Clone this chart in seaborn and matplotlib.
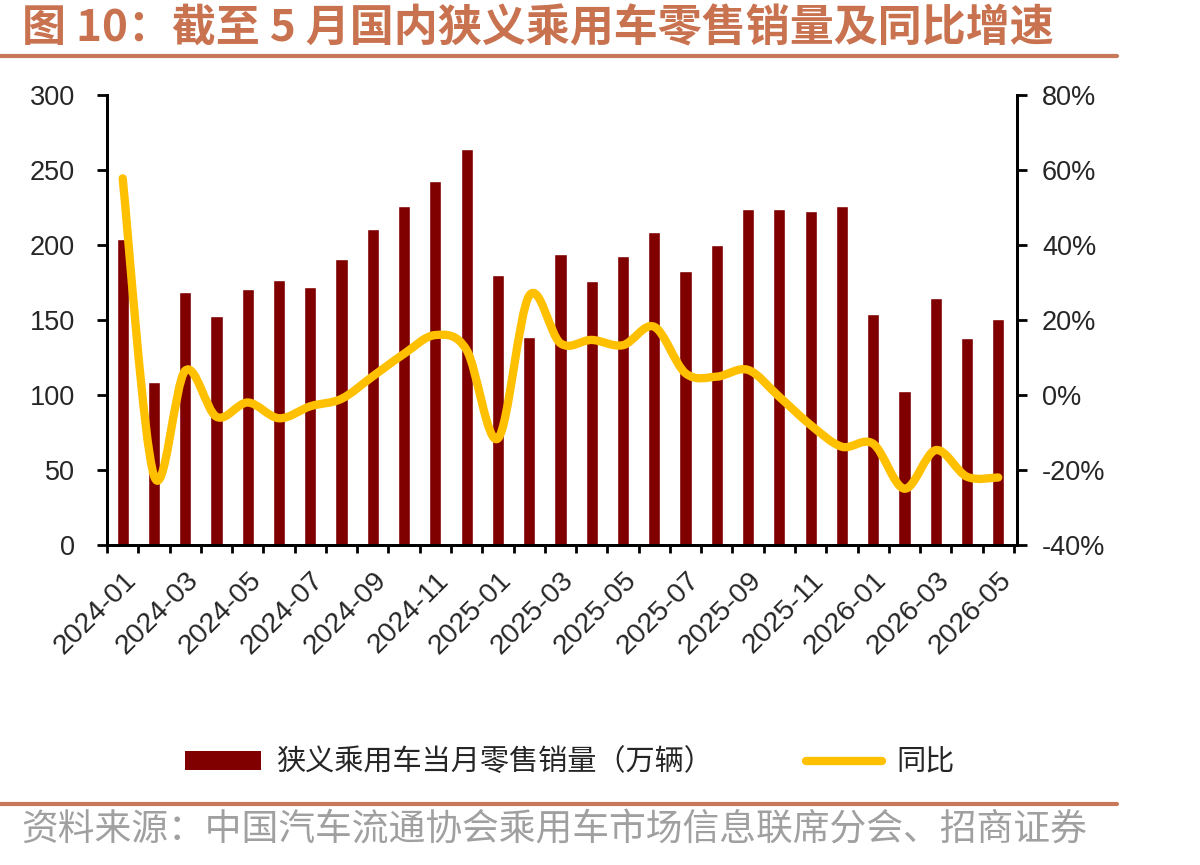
import numpy as np
import pandas as pd
import matplotlib
matplotlib.use("Agg")
import matplotlib.pyplot as plt
import seaborn as sns
from matplotlib.path import Path
from matplotlib.patches import PathPatch, Patch
from matplotlib.lines import Line2D

months = ["2024-01", "2024-02", "2024-03", "2024-04", "2024-05", "2024-06",
          "2024-07", "2024-08", "2024-09", "2024-10", "2024-11", "2024-12",
          "2025-01", "2025-02", "2025-03", "2025-04", "2025-05", "2025-06",
          "2025-07", "2025-08", "2025-09", "2025-10", "2025-11", "2025-12",
          "2026-01", "2026-02", "2026-03", "2026-04", "2026-05"]
sales = [204, 109, 169, 153, 171, 177, 172, 191, 211, 226, 243, 264,
         180, 139, 194, 176, 193, 209, 183, 200, 224, 224, 223, 226,
         154, 103, 165, 138, 151]
yoy = [57.8, -21.5, 6.5, -5.8, -2.0, -6.2, -3.0, -1.0, 5.0, 11.0, 16.0, 12.0,
       -11.6, 26.5, 13.8, 14.7, 13.3, 18.2, 5.8, 4.9, 6.7, -0.5, -8.0, -13.8,
       -13.0, -25.0, -14.7, -21.8, -22.0]
left_ticks = [0, 50, 100, 150, 200, 250, 300]
right_ticks = [-40, -20, 0, 20, 40, 60, 80]

bar_name = "狭义乘用车当月零售销量（万辆）"
line_name = "同比"
title = "图 10：截至 5 月国内狭义乘用车零售销量及同比增速"
source = "资料来源：中国汽车流通协会乘用车市场信息联席分会、招商证券"

sns.set_theme(style="white")
plt.rcParams["font.family"] = ["Liberation Sans", "Noto Sans CJK SC"]

df = pd.DataFrame({"month": months, "sales": sales, "yoy": yoy})

fig = plt.figure(figsize=(12, 8.65), dpi=100)
ax = fig.add_axes([0.0892, 0.370, 0.7583, 0.520])

sns.barplot(data=df, x="month", y="sales", color="#800000", saturation=1,
            width=0.39, ax=ax)
ax.set_xlim(-0.5, len(months) - 0.5)
ax.set_ylim(0, 300)
ax.set_yticks(left_ticks)
ax.set_yticklabels([str(v) for v in left_ticks])
ax.set_xlabel("")
ax.set_ylabel("")

# category-boundary ticks; labels every other month, nudged like Excel
ax.set_xticks(np.arange(-0.5, len(months), 1.0))
ax.set_xticklabels([])
ax.set_xticks(np.arange(0, len(months), 2) + 0.6, minor=True)
ax.set_xticklabels(months[::2], minor=True, rotation=45, ha="right",
                   va="top", fontsize=20.5)
ax.tick_params(axis="x", which="major", direction="out", length=6, width=2,
               color="black", bottom=True)
ax.tick_params(axis="x", which="minor", length=0, pad=16, bottom=True)
ax.tick_params(axis="y", direction="out", length=7, width=2, color="black",
               labelsize=19.5, pad=16, left=True)

ax2 = ax.twinx()
ax2.set_ylim(-40, 80)
ax2.set_yticks(right_ticks)
ax2.set_yticklabels([f"{v}%" for v in right_ticks])
ax2.tick_params(axis="y", direction="out", length=7, width=2, color="black",
                labelsize=19.5, pad=11, right=True)

# smoothed line (Excel style bezier through the data points)
pts = np.column_stack([np.arange(len(yoy)), yoy])
ext = np.vstack([pts[0], pts, pts[-1]])
verts = [tuple(pts[0])]
codes = [Path.MOVETO]
for i in range(len(pts) - 1):
    p0, p1, p2, p3 = ext[i], ext[i + 1], ext[i + 2], ext[i + 3]
    c1 = p1 + (p2 - p0) / 6
    c2 = p2 - (p3 - p1) / 6
    verts += [tuple(c1), tuple(c2), tuple(p2)]
    codes += [Path.CURVE4] * 3
ax2.add_patch(PathPatch(Path(verts, codes), fill=False, edgecolor="#FFC000",
                        lw=6, capstyle="round", joinstyle="round"))

for a in (ax, ax2):
    a.grid(False)
    a.spines["top"].set_visible(False)
    for s in ("left", "right", "bottom"):
        a.spines[s].set_color("black")
        a.spines[s].set_linewidth(2)

handles = [Patch(facecolor="#800000", edgecolor="none"),
           Line2D([0], [0], color="#FFC000", lw=6, solid_capstyle="round")]
fig.legend(handles, [bar_name, line_name], loc="center",
           bbox_to_anchor=(0.475, 0.118), ncol=2, frameon=False,
           handlelength=2.6, handleheight=0.6,
           handletextpad=0.5, columnspacing=3.2,
           prop={"family": ["Noto Sans CJK SC"], "size": 21})

fig.text(0.018, 0.967, title, fontsize=31.7, fontweight="bold",
         color="#C8724F", va="center", ha="left", family=["Noto Sans CJK SC"])
fig.add_artist(Line2D([0, 0.931], [0.935, 0.935], color="#C8785A", lw=3,
                      transform=fig.transFigure))
fig.add_artist(Line2D([0, 0.931], [0.071, 0.071], color="#C8785A", lw=3,
                      transform=fig.transFigure))
fig.text(0.018, 0.040, source, fontsize=26.5, color="#A0A0A0", va="center",
         ha="left", family=["Noto Sans CJK SC"], fontweight="light")

fig.savefig("out.png", dpi=100)
